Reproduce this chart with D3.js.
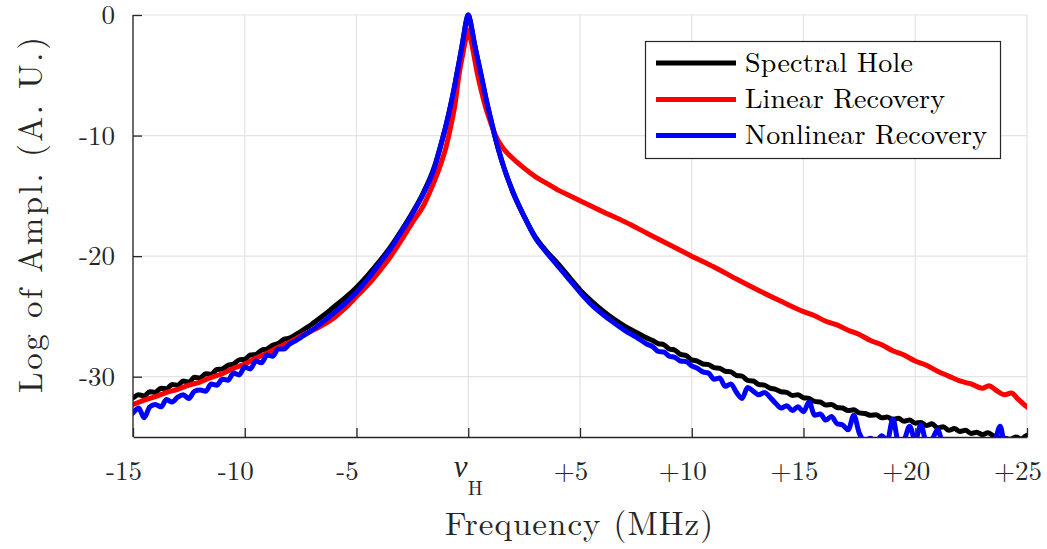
<!DOCTYPE html>
<html><head><meta charset="utf-8">
<script src="https://cdn.jsdelivr.net/npm/d3@7"></script>
<style>
html,body{margin:0;padding:0;background:#fff;}
svg{display:block;}
</style></head>
<body><svg id="chart" width="1047" height="549"></svg>
<script>
// ---------------- data ----------------
const seriesNames = ["Spectral Hole", "Linear Recovery", "Nonlinear Recovery"];
const seriesColors = ["#000000", "#ff0000", "#0000ff"];

const xTicks = [-15, -10, -5, 0, 5, 10, 15, 20, 25];
const xTickLabels = ["-15", "-10", "-5", "ν_H", "+5", "+10", "+15", "+20", "+25"];
const yTicks = [0, -10, -20, -30];
const yTickLabels = ["0", "-10", "-20", "-30"];

// Spectral Hole (black)
const holeFreq = [-15.2,-15,-14.75,-14.5,-14.25,-14,-13.75,-13.5,-13.25,-13,-12.75,-12.5,-12.25,-12,-11.75,-11.5,-11.25,-11,-10.75,-10.5,-10.25,-10,-9.75,-9.5,-9.25,-9,-8.75,-8.5,-8.25,-8,
  -7.5,-7,-6.5,-6,-5.5,-5,-4.5,-4,-3.5,-3,-2.5,-2,-1.5,-1.2,-1,-0.8,-0.6,-0.45,-0.3,-0.2,-0.1,0,0.1,0.2,0.3,0.45,0.6,0.8,1,1.2,1.5,2,2.5,3,3.5,4,4.5,5,5.5,6,6.5,7,7.5,8,
  8.25,8.5,8.75,9,9.25,9.5,9.75,10,10.25,10.5,10.75,11,11.25,11.5,11.75,12,12.25,12.5,12.75,13,13.25,13.5,13.75,14,14.25,14.5,14.75,15,15.25,15.5,15.75,16,16.25,16.5,16.75,17,17.25,17.5,17.75,18,18.25,18.5,18.75,19,19.25,19.5,19.75,20,20.25,20.5,20.75,21,21.25,21.5,21.75,22,22.25,22.5,22.75,23,23.25,23.5,23.75,24,24.25,24.5,24.75,25,25.2];
const holeAmp = [-31.9,-31.75,-31.5,-31.6,-31.25,-31.3,-30.95,-31.0,-30.65,-30.7,-30.35,-30.45,-30.05,-30.1,-29.75,-29.8,-29.4,-29.35,-29.05,-28.95,-28.6,-28.55,-28.2,-28.15,-27.8,-27.7,-27.4,-27.25,-26.9,-26.8,
  -26.25,-25.65,-24.95,-24.2,-23.45,-22.6,-21.6,-20.5,-19.3,-17.9,-16.4,-14.7,-12.5,-10.6,-9.2,-7.6,-5.8,-4.3,-2.8,-1.7,-0.6,0,-0.6,-1.6,-2.6,-3.9,-5.2,-7.0,-8.6,-10.1,-12.1,-14.7,-16.7,-18.4,-19.6,-20.6,-21.7,-22.8,-23.7,-24.5,-25.2,-25.8,-26.3,-26.8,
  -27.0,-27.25,-27.35,-27.7,-27.8,-28.15,-28.25,-28.6,-28.7,-28.95,-29.0,-29.25,-29.3,-29.55,-29.6,-29.9,-29.95,-30.3,-30.35,-30.65,-30.7,-30.95,-31.05,-31.25,-31.3,-31.55,-31.5,-31.75,-31.8,-32.05,-32.1,-32.35,-32.3,-32.55,-32.6,-32.8,-32.75,-33.0,-33.05,-33.2,-33.15,-33.4,-33.35,-33.55,-33.45,-33.7,-33.6,-33.85,-33.8,-34.05,-33.9,-34.25,-34.15,-34.45,-34.3,-34.55,-34.45,-34.7,-34.6,-34.8,-34.65,-34.9,-35.05,-35.1,-35.2,-35.0,-35.15,-34.85,-35.0];

// Linear Recovery (red)
const linFreq = [-15.2,-15,-14.5,-14,-13.5,-13,-12.5,-12,-11.5,-11,-10.5,-10,-9.5,-9,-8.5,-8,-7.5,-7,-6.5,-6,-5.5,-5,-4.5,-4,-3.5,-3,-2.5,-2,-1.5,-1.2,-1,-0.8,-0.6,-0.4,-0.25,-0.1,0,0.1,0.25,0.4,0.6,0.8,1,1.2,1.5,2,2.5,3,3.5,4,4.5,5,6,7,8,9,10,11,12,13,14,15,15.5,16,16.5,17,17.5,18,18.5,19,19.5,20,20.5,21,21.5,22,22.5,23,23.3,23.6,24,24.3,24.6,25,25.2];
const linAmp = [-32.4,-32.3,-31.95,-31.65,-31.3,-31.05,-30.7,-30.45,-30.05,-29.75,-29.3,-28.95,-28.45,-28.05,-27.55,-27.15,-26.65,-26.2,-25.7,-25.1,-24.3,-23.35,-22.4,-21.3,-20.1,-18.7,-17.2,-15.8,-13.7,-12.2,-11.0,-9.4,-7.5,-4.8,-3.3,-1.9,-1.25,-1.9,-3.3,-4.8,-6.4,-7.8,-8.9,-9.9,-10.9,-11.9,-12.7,-13.4,-13.95,-14.5,-14.95,-15.4,-16.3,-17.15,-18.1,-19.05,-20.0,-20.9,-21.9,-22.85,-23.75,-24.6,-24.95,-25.4,-25.7,-26.15,-26.5,-27.0,-27.35,-27.85,-28.2,-28.7,-29.05,-29.55,-29.95,-30.35,-30.6,-30.95,-30.75,-31.1,-31.5,-31.35,-31.85,-32.5,-32.7];

// Nonlinear Recovery (blue)
const nlFreq = [-15.2,-15,-14.75,-14.5,-14.25,-14,-13.75,-13.5,-13.25,-13,-12.75,-12.5,-12.25,-12,-11.75,-11.5,-11.25,-11,-10.75,-10.5,-10.25,-10,-9.75,-9.5,-9.25,-9,-8.75,-8.5,-8.25,-8,-7.75,-7.5,
  -7,-6.5,-6,-5.5,-5,-4.5,-4,-3.5,-3,-2.5,-2,-1.5,-1.2,-1,-0.8,-0.6,-0.45,-0.3,-0.2,-0.1,0,0.1,0.2,0.3,0.45,0.6,0.8,1,1.2,1.5,2,2.5,3,3.5,4,4.5,5,5.5,6,6.5,7,7.5,8,
  8.25,8.5,8.75,9,9.25,9.5,9.75,10,10.25,10.5,10.75,11,11.25,11.5,11.75,12,12.25,12.5,12.75,13,13.25,13.5,13.75,14,14.25,14.5,14.75,15,15.25,15.5,15.75,16,16.25,16.5,16.75,17,17.25,17.5,17.75,18,18.25,18.5,18.75,19,19.25,19.5,19.75,20,20.25,20.5,20.75,21,21.25,21.5,21.75,22,22.5,23,23.5,23.8,24,24.2];
const nlAmp = [-33.2,-33.0,-32.6,-33.4,-32.5,-32.3,-32.5,-31.9,-32.1,-31.7,-31.5,-31.8,-31.2,-31.1,-31.2,-30.6,-30.7,-30.2,-30.3,-29.7,-29.85,-29.2,-29.35,-28.7,-28.85,-28.2,-28.3,-27.7,-27.7,-27.3,-27.05,-26.75,
  -26.15,-25.45,-24.7,-23.9,-23.0,-21.9,-20.7,-19.45,-18.0,-16.5,-14.8,-12.6,-10.6,-9.2,-7.6,-5.8,-4.3,-2.8,-1.7,-0.6,0,-0.6,-1.6,-2.6,-3.9,-5.2,-7.0,-8.6,-10.1,-12.1,-14.7,-16.7,-18.5,-19.7,-20.8,-21.9,-23.0,-24.0,-24.8,-25.5,-26.15,-26.7,-27.3,
  -27.5,-27.9,-27.95,-28.3,-28.4,-28.7,-28.75,-29.1,-29.3,-29.6,-29.7,-30.2,-30.1,-30.8,-30.6,-31.3,-31.8,-30.9,-31.2,-31.5,-31.3,-31.7,-32.2,-32.6,-32.4,-32.8,-32.5,-32.9,-32.1,-33.2,-33.1,-33.6,-33.3,-33.9,-34.0,-34.4,-33.2,-34.7,-35.3,-35.1,-35.4,-34.9,-35.3,-33.5,-35.4,-35.2,-34.1,-35.3,-34.0,-35.4,-35.2,-34.4,-35.5,-35.3,-35.6,-35.4,-35.7,-35.5,-35.6,-34.1,-35.6,-35.8];

// ---------------- drawing ----------------
const plot = {left: 133, right: 1027, top: 15, bottom: 437};
const ink = "#262626";
const FF = '"Latin Modern Roman", "Liberation Serif", serif';

const svg = d3.select("#chart");
const x = d3.scaleLinear().domain([-15, 25]).range([plot.left, plot.right]);
const y = d3.scaleLinear().domain([-35, 0]).range([plot.bottom, plot.top]);

// grid
const grid = svg.append("g").attr("stroke", "#e3e3e3").attr("stroke-width", 1.2);
grid.selectAll("line.vx").data(xTicks).join("line")
  .attr("x1", d => x(d)).attr("x2", d => x(d))
  .attr("y1", plot.top).attr("y2", plot.bottom);
grid.selectAll("line.hy").data(yTicks).join("line")
  .attr("x1", plot.left).attr("x2", plot.right)
  .attr("y1", d => y(d)).attr("y2", d => y(d));

// clip
svg.append("defs").append("clipPath").attr("id", "clip")
  .append("rect").attr("x", plot.left).attr("y", plot.top - 3)
  .attr("width", plot.right - plot.left).attr("height", plot.bottom - plot.top + 3);

const series = [
  {freq: holeFreq, amp: holeAmp},
  {freq: linFreq, amp: linAmp},
  {freq: nlFreq, amp: nlAmp}
];
const lines = svg.append("g").attr("clip-path", "url(#clip)");
series.forEach((s, k) => {
  const pts = d3.zip(s.freq, s.amp);
  const line = d3.line().x(d => x(d[0])).y(d => y(d[1])).curve(d3.curveMonotoneX);
  lines.append("path").datum(pts)
    .attr("d", line)
    .attr("fill", "none")
    .attr("stroke", seriesColors[k])
    .attr("stroke-width", 5)
    .attr("stroke-linejoin", "round")
    .attr("stroke-linecap", "round");
});

// axes
const xAxis = d3.axisBottom(x).tickValues(xTicks).tickSizeInner(-9).tickSizeOuter(0).tickFormat("");
const yAxis = d3.axisLeft(y).tickValues(yTicks).tickSizeInner(-9).tickSizeOuter(0).tickFormat("");
const gx = svg.append("g").attr("transform", `translate(0,${plot.bottom})`).call(xAxis);
const gy = svg.append("g").attr("transform", `translate(${plot.left},0)`).call(yAxis);
[gx, gy].forEach(g => {
  g.select(".domain").attr("stroke", ink).attr("stroke-width", 1.3);
  g.selectAll(".tick line").attr("stroke", ink).attr("stroke-width", 1.3);
});
gy.select(".domain").attr("d", `M0,${plot.bottom}V${plot.top}`);

// x tick labels
const xl = svg.append("g").attr("fill", ink).attr("font-size", 27).style("font-family", FF).attr("text-anchor", "middle");
xTicks.forEach((t, i) => {
  const lab = xTickLabels[i];
  if (lab.includes("_")) {
    const [main, sub] = lab.split("_");
    const tx = xl.append("text").attr("x", x(t)).attr("y", 477);
    tx.append("tspan").attr("font-style", "italic").attr("font-size", 31).text(main);
    tx.append("tspan").attr("font-size", 20).attr("dy", 18).text(sub);
  } else {
    xl.append("text").attr("x", x(t) - 9).attr("y", 480).text(lab);
  }
});

// y tick labels
const yl = svg.append("g").attr("fill", ink).attr("font-size", 27).style("font-family", FF).attr("text-anchor", "end");
yTicks.forEach((t, i) => {
  yl.append("text").attr("x", 115).attr("y", y(t) + 9).text(yTickLabels[i]);
});

// axis titles
svg.append("text").attr("x", 579).attr("y", 535).attr("text-anchor", "middle")
  .attr("fill", ink).attr("font-size", 33).style("font-family", FF)
  .attr("textLength", 268).attr("lengthAdjust", "spacing")
  .text("Frequency (MHz)");
svg.append("text").attr("transform", "translate(42,215) rotate(-90)").attr("text-anchor", "middle")
  .attr("fill", ink).attr("font-size", 33).style("font-family", FF)
  .attr("textLength", 356).attr("lengthAdjust", "spacing")
  .text("Log of Ampl. (A. U.)");

// legend
const lg = svg.append("g");
lg.append("rect").attr("x", 645.5).attr("y", 41.5).attr("width", 355).attr("height", 117)
  .attr("fill", "#fff").attr("stroke", ink).attr("stroke-width", 1.2);
const legY = [63, 99.5, 135.5];
const legTextLen = [168, 200, 242];
seriesNames.forEach((n, k) => {
  lg.append("line").attr("x1", 656).attr("x2", 736).attr("y1", legY[k]).attr("y2", legY[k])
    .attr("stroke", seriesColors[k]).attr("stroke-width", 5);
  lg.append("text").attr("x", 745).attr("y", legY[k] + 8.5)
    .attr("font-size", 28).attr("fill", "#000").style("font-family", FF)
    .attr("textLength", legTextLen[k]).attr("lengthAdjust", "spacing")
    .text(n);
});
</script>
</body></html>
